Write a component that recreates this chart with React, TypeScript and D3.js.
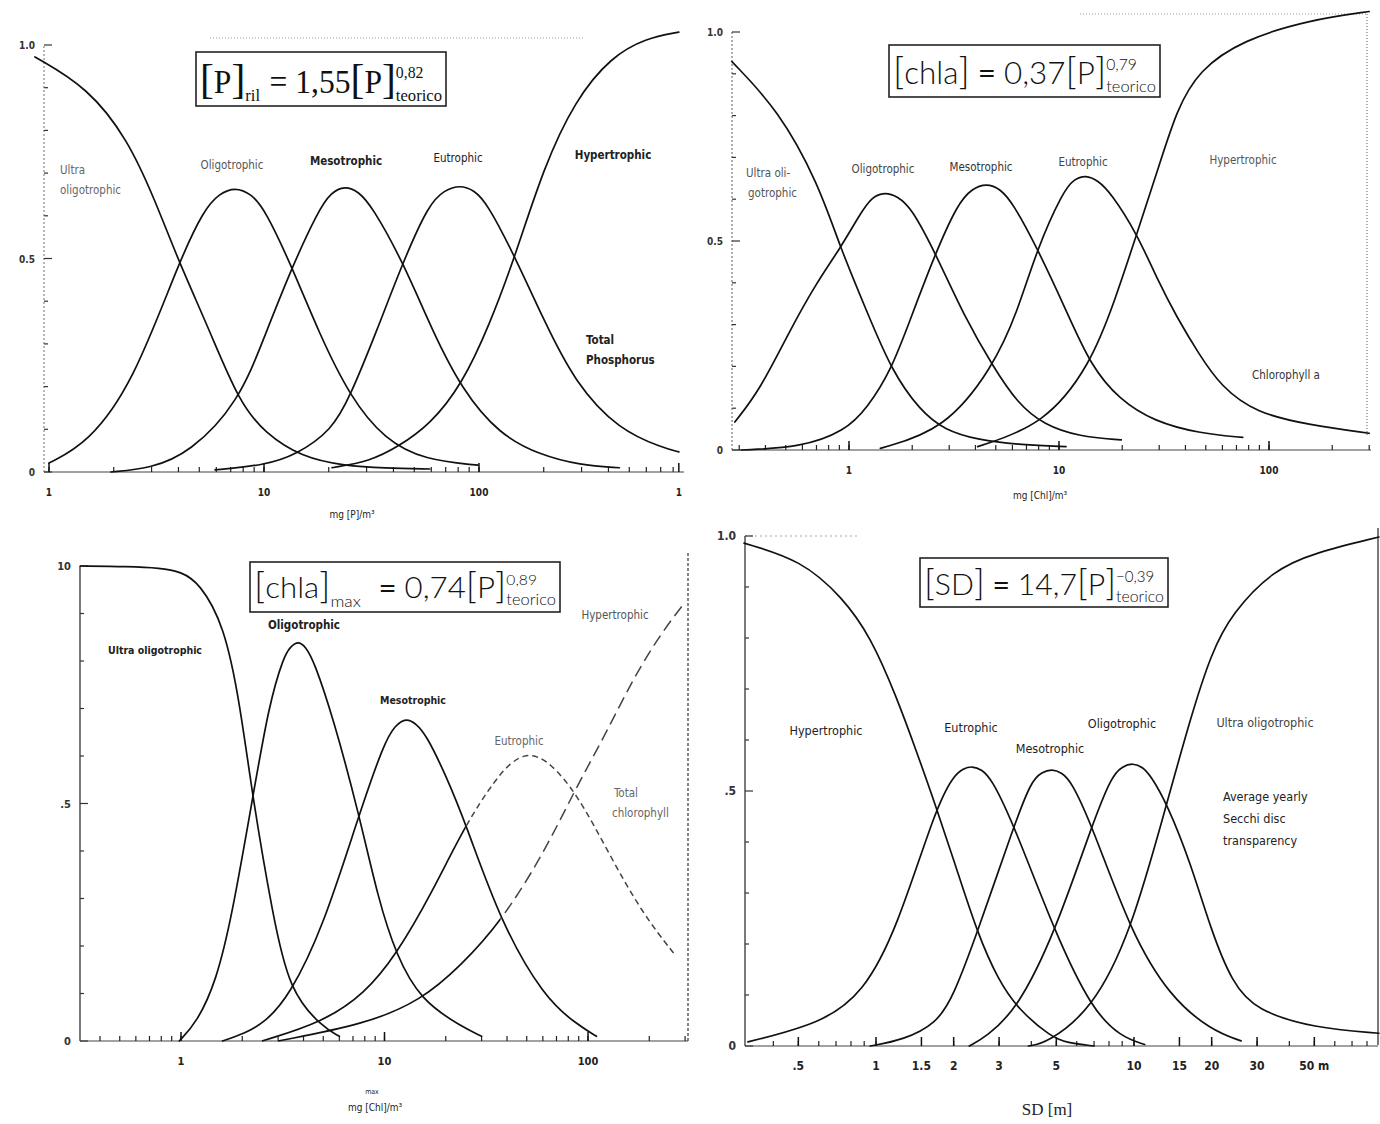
import React, { useEffect, useRef } from "react";
import * as d3 from "d3";

type Pt = [number, number];

const W = 1380;
const H = 1124;

// Probability of each trophic class as [x, p].

// A — total phosphorus, mg/m3
const tpUltra: Pt[] = [[0.86, 0.972], [1.52, 0.9], [2.33, 0.778], [3.11, 0.637], [4.02, 0.492], [5.49, 0.34], [7.65, 0.164], [10.1, 0.091], [14.9, 0.035], [23.8, 0.014], [36.5, 0.009], [59, 0.007]];
const tpOligo: Pt[] = [[1.0, 0.021], [1.52, 0.068], [2.46, 0.208], [4.02, 0.492], [5.26, 0.615], [6.2, 0.652], [7.33, 0.667], [8.7, 0.652], [10.1, 0.615], [13.5, 0.48], [18.0, 0.326], [25.1, 0.176], [36.5, 0.075], [56.1, 0.028], [98.9, 0.016]];
const tpMeso: Pt[] = [[1.94, 0.0], [2.95, 0.008], [4.53, 0.045], [7.65, 0.164], [10.1, 0.32], [13.5, 0.48], [17.8, 0.61], [20.5, 0.655], [23.8, 0.67], [27.5, 0.657], [31.8, 0.622], [44.3, 0.492], [60.4, 0.333], [83.4, 0.192], [125, 0.087], [192, 0.04], [295, 0.016], [450, 0.01]];
const tpEutro: Pt[] = [[5.92, 0.005], [10.1, 0.016], [14.1, 0.04], [20.7, 0.098], [25.1, 0.176], [33.2, 0.326], [44.3, 0.492], [58.5, 0.628], [69, 0.66], [81.6, 0.672], [95, 0.66], [109, 0.63], [147, 0.504], [200, 0.356], [280, 0.208], [448, 0.098], [725, 0.056], [850, 0.047]];
const tpHyper: Pt[] = [[20.7, 0.01], [31.1, 0.025], [42, 0.059], [59, 0.11], [83.4, 0.205], [112, 0.345], [147, 0.504], [200, 0.714], [280, 0.871], [411, 0.972], [598, 1.016], [850, 1.03]];
const tpTickValues = [1, 10, 100, 850];
const tpTickLabels = ["1", "10", "100", "1"];

// B — chlorophyll a, mg/m3
const chlUltra: Pt[] = [[0.277, 0.929], [0.462, 0.813], [0.714, 0.638], [0.91, 0.483], [1.22, 0.33], [1.59, 0.191], [2.18, 0.094], [2.85, 0.048], [4.1, 0.024], [6.66, 0.012], [10.8, 0.008]];
const chlOligo: Pt[] = [[0.286, 0.067], [0.377, 0.144], [0.524, 0.287], [0.7, 0.4], [0.91, 0.483], [1.13, 0.565], [1.28, 0.605], [1.48, 0.617], [1.7, 0.607], [1.98, 0.58], [2.58, 0.471], [3.54, 0.319], [4.86, 0.199], [6.34, 0.112], [8.48, 0.06], [12.5, 0.032], [19.8, 0.024]];
const chlMeso: Pt[] = [[0.306, 0.0], [0.589, 0.006], [0.955, 0.045], [1.22, 0.1], [1.59, 0.191], [1.98, 0.319], [2.58, 0.471], [3.3, 0.59], [3.85, 0.625], [4.51, 0.638], [5.25, 0.625], [6.04, 0.59], [7.88, 0.483], [10.8, 0.335], [14.1, 0.203], [19.4, 0.12], [28.5, 0.068], [46.3, 0.04], [75, 0.03]];
const chlEutro: Pt[] = [[1.41, 0.004], [2.85, 0.048], [4.86, 0.199], [6.34, 0.33], [7.88, 0.483], [10.5, 0.62], [11.8, 0.648], [13.4, 0.658], [15.3, 0.645], [17.6, 0.616], [23.5, 0.518], [29.9, 0.4], [36.3, 0.319], [46.3, 0.23], [59, 0.152], [87, 0.088], [156, 0.06], [300, 0.04]];
const chlHyper: Pt[] = [[4.1, 0.008], [8.48, 0.06], [14.1, 0.203], [18.5, 0.359], [23.5, 0.518], [29.9, 0.678], [36.3, 0.813], [46.3, 0.909], [75, 0.981], [156, 1.029], [300, 1.049]];
const chlTickValues = [1, 10, 100];
const chlTickLabels = ["1", "10", "100"];

// C — maximum chlorophyll a, mg/m3
const cmUltra: Pt[] = [[0.32, 1.0], [0.55, 0.999], [0.79, 0.996], [1.0, 0.988], [1.23, 0.965], [1.63, 0.876], [1.95, 0.71], [2.25, 0.512], [2.83, 0.263], [3.41, 0.105], [4.93, 0.03], [6.0, 0.01]];
const cmOligo: Pt[] = [[0.98, 0.0], [1.2, 0.04], [1.49, 0.126], [1.78, 0.263], [2.25, 0.512], [2.71, 0.71], [3.2, 0.81], [3.45, 0.83], [3.76, 0.842], [4.1, 0.83], [4.5, 0.8], [5.6, 0.68], [7.5, 0.477], [9.3, 0.3], [11.4, 0.181], [15.1, 0.085], [24, 0.03], [30, 0.01]];
const cmMeso: Pt[] = [[1.6, 0.0], [2.04, 0.015], [2.6, 0.04], [3.41, 0.095], [5.0, 0.24], [7.5, 0.477], [10, 0.63], [11.3, 0.665], [12.8, 0.68], [14.3, 0.668], [16, 0.645], [20, 0.56], [25.1, 0.457], [37.2, 0.25], [60.8, 0.092], [87.5, 0.036], [110, 0.01]];
const cmEutro: Pt[] = [[2.5, 0.0], [5.0, 0.04], [8.0, 0.1], [11.4, 0.181], [17, 0.31], [25.1, 0.457], [35, 0.55], [42, 0.588], [50, 0.604], [57, 0.598], [65, 0.585], [87.5, 0.524], [127, 0.394], [184, 0.27], [268, 0.181]];
const cmHyper: Pt[] = [[3.0, 0.0], [8.0, 0.035], [15.1, 0.085], [23.9, 0.16], [37.2, 0.25], [60.5, 0.394], [85.3, 0.525], [120, 0.64], [168, 0.766], [230, 0.86], [300, 0.924]];
const cmTickValues = [1, 10, 100];
const cmTickLabels = ["1", "10", "100"];

// D — Secchi disc transparency, m
const sdHyper: Pt[] = [[0.308, 0.986], [0.513, 0.953], [0.741, 0.88], [0.955, 0.802], [1.2, 0.685], [1.43, 0.58], [1.71, 0.469], [2.06, 0.345], [2.47, 0.222], [2.97, 0.13], [3.57, 0.071], [4.77, 0.018], [5.5, 0.006], [7, 0.0]];
const sdEutro: Pt[] = [[0.319, 0.008], [0.618, 0.045], [0.891, 0.104], [1.2, 0.227], [1.71, 0.469], [2.0, 0.53], [2.18, 0.544], [2.36, 0.549], [2.57, 0.542], [2.8, 0.525], [3.43, 0.433], [4.94, 0.222], [6.87, 0.071], [8.9, 0.018], [11, 0.003]];
const sdMeso: Pt[] = [[0.95, 0.0], [1.28, 0.012], [1.72, 0.045], [1.99, 0.096], [2.47, 0.222], [3.43, 0.433], [4.0, 0.52], [4.4, 0.537], [4.81, 0.543], [5.25, 0.536], [5.7, 0.52], [6.87, 0.433], [9.73, 0.222], [13.8, 0.096], [19.9, 0.031], [26, 0.01]];
const sdOligo: Pt[] = [[2.3, 0.0], [2.67, 0.018], [3.52, 0.071], [4.94, 0.222], [6.87, 0.433], [8.2, 0.53], [9.0, 0.548], [9.91, 0.555], [10.8, 0.547], [11.6, 0.53], [13.4, 0.476], [16.6, 0.358], [19.9, 0.227], [24, 0.124], [29.7, 0.07], [49.9, 0.035], [89, 0.025]];
const sdUltra: Pt[] = [[3.9, 0.0], [4.6, 0.006], [6.87, 0.071], [9.73, 0.222], [13.4, 0.476], [16.6, 0.645], [19.9, 0.77], [24, 0.849], [34.6, 0.933], [49.9, 0.967], [89, 0.998]];
const sdTickValues = [0.5, 1, 1.5, 2, 3, 5, 10, 15, 20, 30, 50];
const sdTickLabels = [".5", "1", "1.5", "2", "3", "5", "10", "15", "20", "30", "50 m"];

const probTickValues = [0, 0.5, 1];

const NARROW = "'Liberation Sans Narrow','DejaVu Sans Condensed','Arial Narrow',sans-serif";
const SERIF = "'Liberation Serif','Times New Roman',serif";
const LIGHT = "Lato,'Open Sans','Noto Sans',sans-serif";

type Label = { t: string; x: number; y: number; a?: string; s?: number; w?: string; c?: string };

const panels = [
  {
    anchor: [1, 100], anchorPx: [49, 479], yRange: [472, 45], axisX: 44, xEnd: 684,
    tickDomain: [1, 900], ticks: tpTickValues, tickLabels: tpTickLabels,
    yLabels: ["0", "0.5", "1.0"], axisDash: "2,2", axisColor: "#888", tickFont: 10,
    series: [tpUltra, tpOligo, tpMeso, tpEutro, tpHyper], dashFrom: [0, 0, 0, 0, 0],
    labels: [
      { t: "Ultra", x: 60, y: 174, a: "start", c: "#666" }, { t: "oligotrophic", x: 60, y: 194, a: "start", c: "#666" },
      { t: "Oligotrophic", x: 232, y: 169, c: "#555" }, { t: "Mesotrophic", x: 346, y: 165, w: "bold" },
      { t: "Eutrophic", x: 458, y: 162 }, { t: "Hypertrophic", x: 613, y: 159, w: "bold" },
      { t: "Total", x: 586, y: 344, a: "start", w: "bold" }, { t: "Phosphorus", x: 586, y: 364, a: "start", w: "bold" },
    ] as Label[],
    title: [{ t: "mg [P]/m³", x: 352, y: 518, s: 10 }] as Label[],
  },
  {
    anchor: [1, 100], anchorPx: [849, 1269], yRange: [450, 32], axisX: 732, xEnd: 1371,
    tickDomain: [0.3, 300], ticks: chlTickValues, tickLabels: chlTickLabels,
    yLabels: ["0", "0.5", "1.0"], axisDash: "2,2", axisColor: "#777", tickFont: 10,
    series: [chlUltra, chlOligo, chlMeso, chlEutro, chlHyper], dashFrom: [0, 0, 0, 0, 0],
    labels: [
      { t: "Ultra oli-", x: 746, y: 177, a: "start", c: "#555" }, { t: "gotrophic", x: 748, y: 197, a: "start", c: "#555" },
      { t: "Oligotrophic", x: 883, y: 173, c: "#444" }, { t: "Mesotrophic", x: 981, y: 171, c: "#333" },
      { t: "Eutrophic", x: 1083, y: 166, c: "#444" }, { t: "Hypertrophic", x: 1243, y: 164, c: "#555" },
      { t: "Chlorophyll a", x: 1252, y: 379, a: "start", c: "#333" },
    ] as Label[],
    title: [{ t: "mg [Chl]/m³", x: 1040, y: 499, s: 10 }] as Label[],
  },
  {
    anchor: [1, 100], anchorPx: [181, 588], yRange: [1041, 566], axisX: 80, xEnd: 688,
    tickDomain: [0.4, 300], ticks: cmTickValues, tickLabels: cmTickLabels,
    yLabels: ["0", ".5", "10"], axisDash: "", axisColor: "#222", tickFont: 11,
    series: [cmUltra, cmOligo, cmMeso, cmEutro, cmHyper], dashFrom: [0, 0, 0, 25.1, 37.2],
    labels: [
      { t: "Ultra oligotrophic", x: 155, y: 654, w: "bold", s: 10.5 }, { t: "Oligotrophic", x: 304, y: 629, w: "bold" },
      { t: "Mesotrophic", x: 413, y: 704, w: "bold", s: 10.5 }, { t: "Eutrophic", x: 519, y: 745, c: "#666" },
      { t: "Hypertrophic", x: 615, y: 619, c: "#555" },
      { t: "Total", x: 614, y: 797, a: "start", c: "#666" }, { t: "chlorophyll", x: 612, y: 817, a: "start", c: "#666" },
    ] as Label[],
    title: [{ t: "max", x: 372, y: 1094, s: 7 }, { t: "mg [Chl]/m³", x: 375, y: 1111, s: 10 }] as Label[],
  },
  {
    anchor: [1, 10], anchorPx: [876, 1134], yRange: [1046, 536], axisX: 745, xEnd: 1378,
    tickDomain: [0.35, 90], ticks: sdTickValues, tickLabels: sdTickLabels,
    yLabels: ["0", ".5", "1.0"], axisDash: "", axisColor: "#222", tickFont: 12,
    series: [sdHyper, sdEutro, sdMeso, sdOligo, sdUltra], dashFrom: [0, 0, 0, 0, 0],
    labels: [
      { t: "Hypertrophic", x: 826, y: 735, s: 12.5 }, { t: "Eutrophic", x: 971, y: 732, s: 12.5 },
      { t: "Mesotrophic", x: 1050, y: 753, s: 12.5 }, { t: "Oligotrophic", x: 1122, y: 728, s: 12.5 },
      { t: "Ultra oligotrophic", x: 1265, y: 727, s: 12.5, c: "#444" },
      { t: "Average yearly", x: 1223, y: 801, a: "start", s: 12.5 }, { t: "Secchi disc", x: 1223, y: 823, a: "start", s: 12.5 },
      { t: "transparency", x: 1223, y: 845, a: "start", s: 12.5 },
    ] as Label[],
    title: [{ t: "SD [m]", x: 1047, y: 1115, s: 17 }] as Label[],
  },
];

// decorative scan frame pieces
const frames = [
  { x1: 210, y1: 38, x2: 585, y2: 38, dash: "1,2", c: "#999" },
  { x1: 1080, y1: 14, x2: 1367, y2: 14, dash: "1,2", c: "#999" },
  { x1: 1367, y1: 14, x2: 1367, y2: 436, dash: "1,2", c: "#777" },
  { x1: 688, y1: 553, x2: 688, y2: 1042, dash: "3,2", c: "#333" },
  { x1: 1378, y1: 528, x2: 1378, y2: 1045, dash: "", c: "#222" },
  { x1: 745, y1: 536, x2: 860, y2: 536, dash: "2,3", c: "#aaa" },
];

type Part = { t?: string; sup?: string; sub?: string; s: number; dy?: number; w?: number };
const formulas: { box: number[]; font: string; weight: number; parts: Part[] }[] = [
  {
    box: [196, 52, 250, 54], font: SERIF, weight: 400,
    parts: [{ t: "[", s: 50 }, { t: "P", s: 38 }, { t: "]", s: 50 }, { sub: "ril", s: 20, dy: 9 }, { t: " = 1,55", s: 38 },
      { t: "[", s: 50 }, { t: "P", s: 38 }, { t: "]", s: 50 }, { sup: "0,82", sub: "teorico", s: 20 }],
  },
  {
    box: [889, 45, 271, 52], font: LIGHT, weight: 300,
    parts: [{ t: "[", s: 46 }, { t: "chla", s: 38 }, { t: "]", s: 46 }, { t: " = ", s: 38, w: 400 }, { t: "0,37", s: 38 },
      { t: "[", s: 46 }, { t: "P", s: 38 }, { t: "]", s: 46 }, { sup: "0,79", sub: "teorico", s: 20 }],
  },
  {
    box: [250, 562, 310, 50], font: LIGHT, weight: 300,
    parts: [{ t: "[", s: 46 }, { t: "chla", s: 38 }, { t: "]", s: 46 }, { sub: "max", s: 21, dy: 12 }, { t: "  = ", s: 38, w: 400 }, { t: "0,74", s: 38 },
      { t: "[", s: 46 }, { t: "P", s: 38 }, { t: "]", s: 46 }, { sup: "0,89", sub: "teorico", s: 20 }],
  },
  {
    box: [920, 558, 248, 49], font: LIGHT, weight: 300,
    parts: [{ t: "[", s: 46 }, { t: "SD", s: 38 }, { t: "]", s: 46 }, { t: " = ", s: 38, w: 400 }, { t: "14,7", s: 38 },
      { t: "[", s: 46 }, { t: "P", s: 38 }, { t: "]", s: 46 }, { sup: "−0,39", sub: "teorico", s: 20 }],
  },
];

let clipId = 0;

function drawPanel(svg: any, p: any) {
  const x = d3.scaleLog().domain(p.anchor).range(p.anchorPx);
  const y = d3.scaleLinear().domain([0, 1]).range(p.yRange);
  const g = svg.append("g");
  const y0 = y(0);

  // y axis with 0.1 minor ticks
  g.append("line").attr("x1", p.axisX).attr("x2", p.axisX).attr("y1", y0).attr("y2", y(1))
    .attr("stroke", p.axisColor).attr("stroke-width", 1.2).attr("stroke-dasharray", p.axisDash);
  d3.range(11).map(i => i / 10).forEach(v => {
    const major = probTickValues.includes(v);
    g.append("line").attr("x1", p.axisX).attr("x2", p.axisX + (major ? 8 : 4))
      .attr("y1", y(v)).attr("y2", y(v)).attr("stroke", "#333").attr("stroke-width", 1.2);
  });
  probTickValues.forEach((v, i) => {
    g.append("text").attr("x", p.axisX - 9).attr("y", y(v) + 4).attr("text-anchor", "end")
      .attr("font-family", NARROW).attr("font-weight", "bold").attr("font-size", p.tickFont)
      .attr("fill", "#333").text(p.yLabels[i]);
  });

  // x axis
  g.append("line").attr("x1", p.axisX).attr("x2", p.xEnd).attr("y1", y0).attr("y2", y0)
    .attr("stroke", "#444").attr("stroke-width", 1.1);
  const minor = x.copy().domain(p.tickDomain).ticks();
  minor.forEach((v: number) => {
    const px = x(v);
    if (px < p.axisX + 3 || px > p.xEnd) return;
    g.append("line").attr("x1", px).attr("x2", px).attr("y1", y0).attr("y2", y0 - 5)
      .attr("stroke", "#222").attr("stroke-width", 1.2);
  });
  p.ticks.forEach((v: number, i: number) => {
    const px = x(v);
    g.append("line").attr("x1", px).attr("x2", px).attr("y1", y0).attr("y2", y0 - 9)
      .attr("stroke", "#111").attr("stroke-width", 1.5);
    g.append("text").attr("x", px).attr("y", y0 + 24).attr("text-anchor", "middle")
      .attr("font-family", NARROW).attr("font-weight", "bold").attr("font-size", p.tickFont)
      .attr("fill", "#222").text(p.tickLabels[i]);
  });

  // probability curves; some are dashed beyond a given x
  const line = d3.line<Pt>().x(d => x(d[0])).y(d => y(d[1])).curve(d3.curveBasis);
  p.series.forEach((s: Pt[], i: number) => {
    const from = p.dashFrom[i];
    if (!from) {
      g.append("path").datum(s).attr("d", line).attr("fill", "none")
        .attr("stroke", "#111").attr("stroke-width", 1.7).attr("stroke-linecap", "round");
      return;
    }
    const cut = x(from);
    const idA = `clipA${clipId}`, idB = `clipB${clipId++}`;
    const defs = g.append("defs");
    defs.append("clipPath").attr("id", idA).append("rect").attr("x", 0).attr("y", 0).attr("width", cut).attr("height", H);
    defs.append("clipPath").attr("id", idB).append("rect").attr("x", cut).attr("y", 0).attr("width", W - cut).attr("height", H);
    g.append("path").datum(s).attr("d", line).attr("fill", "none").attr("clip-path", `url(#${idA})`)
      .attr("stroke", "#111").attr("stroke-width", 1.7);
    g.append("path").datum(s).attr("d", line).attr("fill", "none").attr("clip-path", `url(#${idB})`)
      .attr("stroke", "#444").attr("stroke-width", 1.5).attr("stroke-dasharray", i === 3 ? "6,4" : "12,6");
  });

  p.labels.forEach((l: Label) => {
    g.append("text").attr("x", l.x).attr("y", l.y).attr("text-anchor", l.a || "middle")
      .attr("font-family", NARROW).attr("font-size", l.s || 11.5).attr("font-weight", l.w || "normal")
      .attr("fill", l.c || "#222").text(l.t);
  });
  p.title.forEach((l: Label) => {
    g.append("text").attr("x", l.x).attr("y", l.y).attr("text-anchor", "middle")
      .attr("font-family", l.s && l.s > 14 ? SERIF : NARROW).attr("font-size", l.s || 10)
      .attr("fill", "#222").text(l.t);
  });
}

function drawFormula(svg: any, f: any) {
  const [bx, by, bw, bh] = f.box;
  svg.append("rect").attr("x", bx).attr("y", by).attr("width", bw).attr("height", bh)
    .attr("fill", "#fff").attr("stroke", "#222").attr("stroke-width", 1.6);
  const outer = svg.append("g");
  const g = outer.append("g");
  let cx = 0;
  const add = (t: string, s: number, yy: number, w?: number) => {
    const el = g.append("text").attr("x", cx).attr("y", yy).attr("font-size", s)
      .attr("font-family", f.font).attr("font-weight", w || f.weight).attr("fill", "#111")
      .attr("xml:space", "preserve").style("white-space", "pre").text(t);
    return (el.node() as SVGTextElement).getComputedTextLength();
  };
  f.parts.forEach((pt: Part) => {
    if (pt.t) {
      cx += add(pt.t, pt.s, 0, pt.w);
    } else if (pt.sup) {
      const w1 = add(pt.sup, pt.s * 0.95, -pt.s * 0.85);
      const w2 = add(pt.sub as string, pt.s, pt.s * 0.45);
      cx += Math.max(w1, w2);
    } else if (pt.sub) {
      cx += add(pt.sub, pt.s, pt.dy || 8) + 2;
    }
  });
  const bb = (g.node() as SVGGElement).getBBox();
  const padX = 4, padY = 2;
  const sx = (bw - 2 * padX) / bb.width;
  const sy = (bh - 2 * padY) / bb.height;
  outer.attr("transform", `translate(${bx + padX - bb.x * sx},${by + padY - bb.y * sy}) scale(${sx},${sy})`);
}

export default function App() {
  const ref = useRef<SVGSVGElement>(null);
  useEffect(() => {
    const svg = d3.select(ref.current);
    svg.selectAll("*").remove();
    svg.append("rect").attr("width", W).attr("height", H).attr("fill", "#fff");
    frames.forEach(fr => {
      svg.append("line").attr("x1", fr.x1).attr("y1", fr.y1).attr("x2", fr.x2).attr("y2", fr.y2)
        .attr("stroke", fr.c).attr("stroke-width", 1.2).attr("stroke-dasharray", fr.dash);
    });
    panels.forEach(p => drawPanel(svg, p));
    formulas.forEach(f => drawFormula(svg, f));
  }, []);
  return (
    <svg ref={ref} width={W} height={H}
      style={{ position: "absolute", left: 0, top: 0, display: "block", background: "#fff" }} />
  );
}
